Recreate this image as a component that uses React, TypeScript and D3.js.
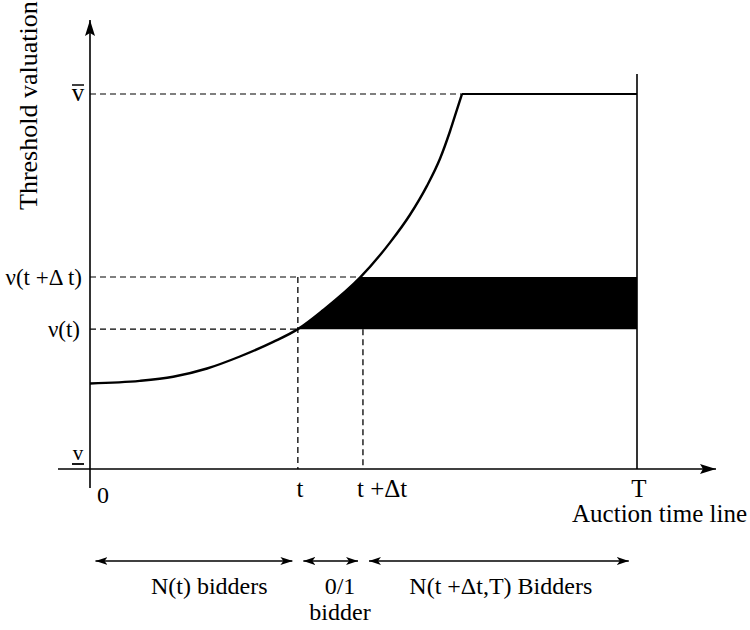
import React from "react";
import * as d3 from "d3";

const curveTimes = [0, 0.91, 1.52, 2.14, 2.74, 3.35, 3.8, 4.26, 4.94, 5.48, 5.85, 6.16, 6.4, 6.58, 6.71, 6.8, 10];
const curveValues = [0.228, 0.235, 0.246, 0.268, 0.3, 0.339, 0.373, 0.4235, 0.511, 0.603, 0.678, 0.755, 0.828, 0.9, 0.959, 1.0, 1.0];
const tValue = 3.8;
const tDeltaValue = 4.99;
const vAtT = 0.373;
const vAtTDelta = 0.512;
const vMax = 1.0;
const horizonT = 10;
const kinkTime = 6.8;
const curveAtTDelta = 4.95;
const xTickValues = [0, tValue, tDeltaValue, horizonT];
const xTickLabels = ["0", "t", "t +\u0394t", "T"];
const spanStarts = [0.1, 3.9, 5.1];
const spanEnds = [3.7, 4.9, 9.85];
const spanCenters = [2.18, 4.57, 7.51];
const spanLabels = [["N(t) bidders"], ["0/1", "bidder"], ["N(t +\u0394t,T) Bidders"]];

const W = 750;
const H = 630;
const FONT = "'Liberation Serif', 'Times New Roman', Times, serif";

export default function App() {
  const x = d3.scaleLinear().domain([0, horizonT]).range([90, 637]);
  const y = d3.scaleLinear().domain([0, vMax]).range([469, 94]);
  const pts: [number, number][] = curveTimes.map((t, i) => [t, curveValues[i]]);
  const line = d3
    .line<[number, number]>()
    .x((d) => x(d[0]))
    .y((d) => y(d[1]))
    .curve(d3.curveMonotoneX);
  const area = d3
    .area<[number, number]>()
    .x((d) => x(d[0]))
    .y0(y(0))
    .y1((d) => y(d[1]))
    .curve(d3.curveMonotoneX);
  const curvePts = pts.filter((d) => d[0] <= kinkTime);
  const flatPts = pts.filter((d) => d[0] >= kinkTime);
  const flatLine = d3
    .line<[number, number]>()
    .x((d) => x(d[0]))
    .y((d) => y(d[1]));

  const axisY = y(0);
  const axisX = x(0);
  const dash = "6,4";
  const ts = { fontFamily: FONT };

  return (
    <svg
      width={W}
      height={H}
      style={{ position: "absolute", left: 0, top: 0, background: "#fff", fontFamily: FONT }}
    >
      <defs>
        <marker id="ah" viewBox="0 0 12 8" refX="12" refY="4" markerWidth="12" markerHeight="8" markerUnits="userSpaceOnUse" orient="auto-start-reverse">
          <path d="M0,0 L12,4 L0,8 L3,4 Z" fill="#000" />
        </marker>
        <marker id="ahBig" viewBox="0 0 16 10" refX="16" refY="5" markerWidth="16" markerHeight="10" markerUnits="userSpaceOnUse" orient="auto-start-reverse">
          <path d="M0,0 L16,5 L0,10 L3,5 Z" fill="#000" />
        </marker>
        <clipPath id="band">
          <rect x={x(0)} y={y(vAtTDelta)} width={x(horizonT) - x(0)} height={y(vAtT) - y(vAtTDelta)} />
        </clipPath>
      </defs>

      {/* black band between v(t) and v(t+dt) */}
      <path d={area(pts) || ""} fill="#000" clipPath="url(#band)" />

      {/* dashed guides */}
      <line x1={axisX} x2={x(kinkTime)} y1={y(vMax)} y2={y(vMax)} stroke="#000" strokeWidth={1.2} strokeDasharray={dash} />
      <line x1={axisX} x2={x(curveAtTDelta)} y1={y(vAtTDelta)} y2={y(vAtTDelta)} stroke="#000" strokeWidth={1.2} strokeDasharray={dash} />
      <line x1={axisX} x2={x(tValue)} y1={y(vAtT)} y2={y(vAtT)} stroke="#000" strokeWidth={1.2} strokeDasharray={dash} />
      <line x1={x(tValue)} x2={x(tValue)} y1={y(vAtTDelta)} y2={axisY} stroke="#000" strokeWidth={1.3} strokeDasharray={dash} />
      <line x1={x(tDeltaValue)} x2={x(tDeltaValue)} y1={y(vAtT)} y2={axisY} stroke="#000" strokeWidth={1.3} strokeDasharray={dash} />

      {/* threshold curve */}
      <path d={line(curvePts) || ""} fill="none" stroke="#000" strokeWidth={2.4} />
      <path d={flatLine(flatPts) || ""} fill="none" stroke="#000" strokeWidth={2} />

      {/* T vertical */}
      <line x1={x(horizonT)} x2={x(horizonT)} y1={74} y2={axisY} stroke="#000" strokeWidth={1.6} />

      {/* axes */}
      <line x1={58} x2={716} y1={axisY} y2={axisY} stroke="#000" strokeWidth={1.6} markerEnd="url(#ahBig)" />
      <line x1={axisX} x2={axisX} y1={488} y2={20} stroke="#000" strokeWidth={1.6} markerEnd="url(#ahBig)" />

      {/* y labels */}
      <text x={78} y={y(vMax) + 7} fontSize={25} textAnchor="middle" style={ts}>v</text>
      <line x1={72} x2={84} y1={y(vMax) - 9} y2={y(vMax) - 9} stroke="#000" strokeWidth={1.5} />
      <text x={82} y={y(vAtTDelta) + 8} fontSize={23} textAnchor="end" style={ts}>{"\u03bd(t +\u0394 t)"}</text>
      <text x={80} y={y(vAtT) + 8} fontSize={23} textAnchor="end" style={ts}>{"\u03bd(t)"}</text>
      <text x={78} y={axisY - 9} fontSize={21} textAnchor="middle" style={ts}>v</text>
      <line x1={72} x2={84} y1={axisY - 5} y2={axisY - 5} stroke="#000" strokeWidth={1.8} />

      {/* y title */}
      <text transform="translate(37,210) rotate(-90)" fontSize={26} textAnchor="start" style={ts}>Threshold valuation</text>

      {/* x tick labels */}
      {xTickValues.map((v, i) => (
        <text
          key={i}
          x={i === 0 ? x(v) + 13 : i === 2 ? x(v) - 6 : x(v) + 2}
          y={i === 0 ? 503 : 497}
          fontSize={i === 0 ? 24 : 25}
          textAnchor={i === 2 ? "start" : "middle"}
          style={ts}
        >
          {xTickLabels[i]}
        </text>
      ))}
      <text x={747} y={522} fontSize={25} textAnchor="end" style={ts}>Auction time line</text>

      {/* spans */}
      {spanStarts.map((s, i) => (
        <line
          key={i}
          x1={x(s)}
          x2={x(spanEnds[i])}
          y1={561}
          y2={561}
          stroke="#000"
          strokeWidth={1.3}
          markerStart="url(#ah)"
          markerEnd="url(#ah)"
        />
      ))}
      {spanLabels.map((lines, i) =>
        lines.map((l, j) => (
          <text key={i + "-" + j} x={x(spanCenters[i])} y={594 + j * 26} fontSize={24} textAnchor="middle" style={ts}>
            {l}
          </text>
        ))
      )}
    </svg>
  );
}
